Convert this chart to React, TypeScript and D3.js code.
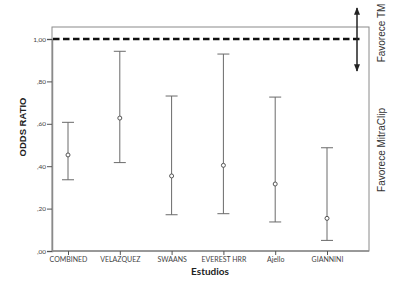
import { useEffect, useRef } from 'react'
import * as d3 from 'd3'

const studies = ['COMBINED', 'VELAZQUEZ', 'SWAANS', 'EVEREST HRR', 'Ajello', 'GIANNINI']
const means = [0.453, 0.627, 0.354, 0.404, 0.316, 0.154]
const lowers = [0.336, 0.417, 0.171, 0.176, 0.137, 0.05]
const uppers = [0.607, 0.942, 0.731, 0.929, 0.726, 0.487]
const yTicks = [0, 0.2, 0.4, 0.6, 0.8, 1.0]

const App = () => {
	const svgRef = useRef(null)

	useEffect(() => {
		const width = 405
		const height = 303
		const box = { left: 52, top: 27, right: 369, bottom: 251 }
		const grey = '#8a8a8a'
		const font = 'Lato, "Open Sans", sans-serif'

		const svg = d3.select(svgRef.current)
		svg.selectAll('*').remove()
		svg.attr('width', width).attr('height', height)

		const x = d3.scalePoint().domain(studies).range([68, 327])
		const y = d3.scaleLinear().domain([0, 1]).range([251, 39])

		// frame
		svg
			.append('rect')
			.attr('x', box.left)
			.attr('y', box.top)
			.attr('width', box.right - box.left)
			.attr('height', box.bottom - box.top)
			.attr('fill', 'none')
			.attr('stroke', grey)
			.attr('stroke-width', 1)

		// axes
		const yAxis = svg
			.append('g')
			.attr('transform', `translate(${box.left},0)`)
			.call(
				d3
					.axisLeft(y)
					.tickValues(yTicks)
					.tickSize(5)
					.tickFormat((d) => d3.format('.2f')(d).replace('0.', ',').replace('1.', '1,'))
			)
		yAxis.select('.domain').attr('stroke', grey).attr('stroke-width', 1.5)
		yAxis.selectAll('line').attr('stroke', '#555')
		yAxis
			.selectAll('text')
			.attr('font-family', font)
			.attr('font-size', 6.5)
			.attr('fill', '#444')
			.attr('x', -6)

		const xAxis = svg
			.append('g')
			.attr('transform', `translate(0,${box.bottom})`)
			.call(d3.axisBottom(x).tickSize(4))
		xAxis.select('.domain').attr('stroke', grey).attr('stroke-width', 1.5).attr('d', `M${box.left},0H${box.right}`)
		xAxis.selectAll('line').attr('stroke', '#555')
		xAxis
			.selectAll('text')
			.attr('font-family', font)
			.attr('font-size', 7)
			.attr('fill', '#444')
			.attr('y', 6)

		// reference line at 1
		svg
			.append('line')
			.attr('x1', box.left + 1)
			.attr('x2', 362)
			.attr('y1', y(1))
			.attr('y2', y(1))
			.attr('stroke', '#111')
			.attr('stroke-width', 2.5)
			.attr('stroke-dasharray', '6.5 3.5')

		// error bars
		const bars = svg
			.append('g')
			.selectAll('g')
			.data(studies)
			.join('g')
			.attr('stroke', '#6a6a6a')
			.attr('fill', 'none')
			.attr('stroke-width', 1)

		bars
			.append('line')
			.attr('x1', (d) => x(d))
			.attr('x2', (d) => x(d))
			.attr('y1', (d, i) => y(lowers[i]))
			.attr('y2', (d, i) => y(uppers[i]))
		bars
			.append('line')
			.attr('x1', (d) => x(d) - 6)
			.attr('x2', (d) => x(d) + 6)
			.attr('y1', (d, i) => y(uppers[i]))
			.attr('y2', (d, i) => y(uppers[i]))
		bars
			.append('line')
			.attr('x1', (d) => x(d) - 6)
			.attr('x2', (d) => x(d) + 6)
			.attr('y1', (d, i) => y(lowers[i]))
			.attr('y2', (d, i) => y(lowers[i]))
		bars
			.append('circle')
			.attr('cx', (d) => x(d))
			.attr('cy', (d, i) => y(means[i]))
			.attr('r', 2)
			.attr('stroke', '#555')
			.attr('fill', 'white')

		// double arrow
		const defs = svg.append('defs')
		defs
			.append('marker')
			.attr('id', 'arr')
			.attr('viewBox', '0 0 10 10')
			.attr('refX', 9)
			.attr('refY', 5)
			.attr('markerWidth', 5)
			.attr('markerHeight', 5)
			.attr('orient', 'auto-start-reverse')
			.append('path')
			.attr('d', 'M0,1L10,5L0,9z')
			.attr('fill', '#222')
		svg
			.append('line')
			.attr('x1', 357)
			.attr('x2', 357)
			.attr('y1', 8)
			.attr('y2', 71)
			.attr('stroke', '#222')
			.attr('stroke-width', 1.5)
			.attr('marker-start', 'url(#arr)')
			.attr('marker-end', 'url(#arr)')

		// side labels
		svg
			.append('text')
			.attr('transform', 'translate(385,33) rotate(-90)')
			.attr('text-anchor', 'middle')
			.attr('font-family', 'Liberation Sans, Arial, sans-serif')
			.attr('font-size', 10)
			.attr('fill', '#333')
			.text('Favorece TM')
		svg
			.append('text')
			.attr('transform', 'translate(385,150) rotate(-90)')
			.attr('text-anchor', 'middle')
			.attr('font-family', 'Liberation Sans, Arial, sans-serif')
			.attr('font-size', 10)
			.attr('fill', '#333')
			.text('Favorece MitraClip')

		// axis titles
		svg
			.append('text')
			.attr('transform', 'translate(26,127) rotate(-90)')
			.attr('text-anchor', 'middle')
			.attr('font-family', 'Liberation Sans, Arial, sans-serif')
			.attr('font-weight', 'bold')
			.attr('font-size', 9.5)
			.attr('fill', '#222')
			.text('ODDS RATIO')
		svg
			.append('text')
			.attr('x', 210)
			.attr('y', 275)
			.attr('text-anchor', 'middle')
			.attr('font-family', font)
			.attr('font-weight', 'bold')
			.attr('font-size', 10)
			.attr('fill', '#222')
			.text('Estudios')
	}, [])

	return <svg ref={svgRef} style={{ position: 'absolute', left: 0, top: 0 }}></svg>
}

export default App
